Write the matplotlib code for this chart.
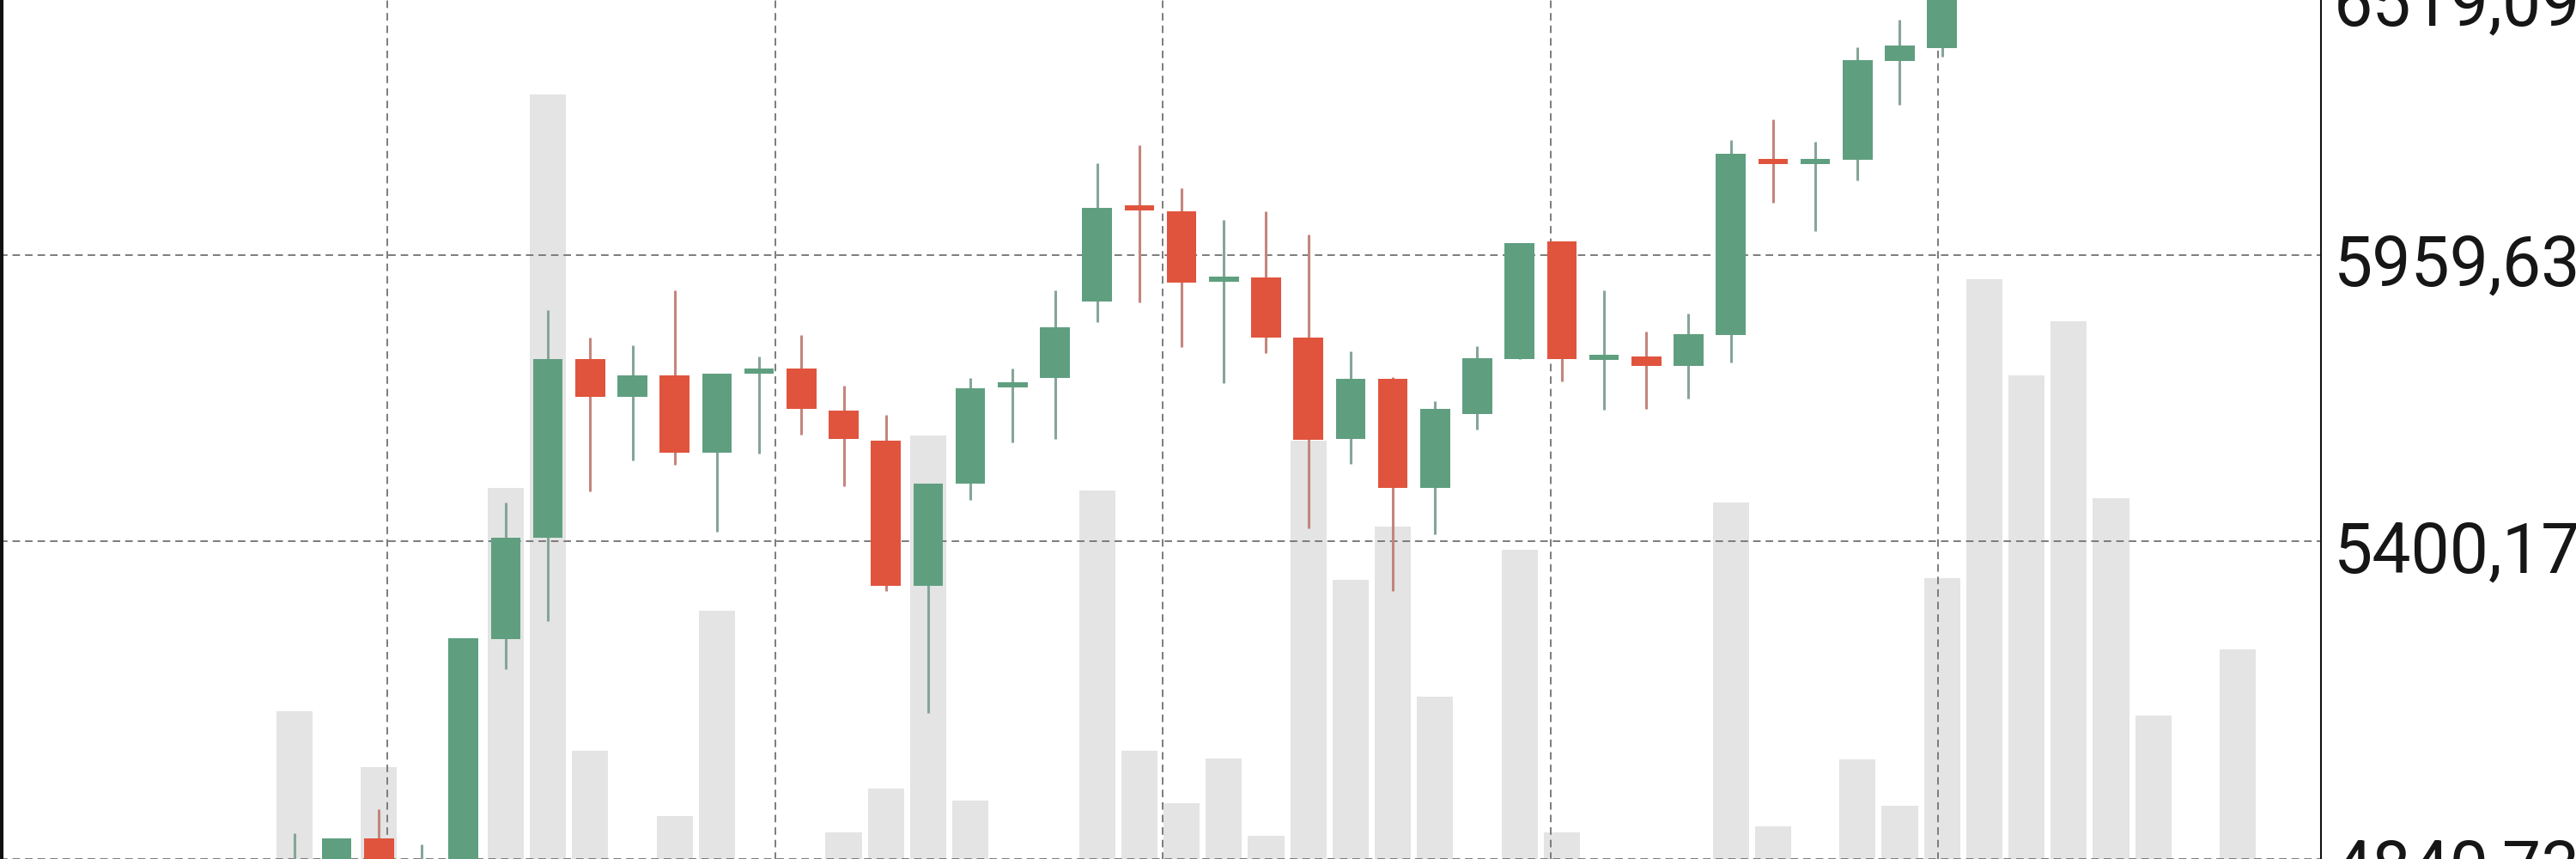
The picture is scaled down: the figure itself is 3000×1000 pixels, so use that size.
import matplotlib
matplotlib.use("Agg")
import matplotlib.pyplot as plt
from matplotlib.ticker import FixedLocator, NullLocator
from matplotlib.transforms import ScaledTranslation
import numpy as np

plt.rcParams['font.family'] = ['Roboto', 'DejaVu Sans']

# price candles, one per session (left to right)
opens = [4783.8, 4798.0, 4875.2, 4776.8, 4805.1, 5221.2, 5406.6, 5749.4, 5675.1, 5717.2,
         5567.1, 5724.0, 5730.7, 5648.3, 5590.2, 5317.8, 5508.2, 5697.0, 5712.1, 5864.4,
         6058.2, 6049.3, 5907.9, 5913.1, 5792.1, 5593.5, 5710.4, 5500.1, 5641.7, 5749.4,
         5987.0, 5751.1, 5754.5, 5735.8, 5797.2, 6155.7, 6152.1, 6157.5, 6370.4, 6398.8]
highs = [4883.9, 4875.2, 4924.4, 4865.1, 5222.8, 5472.5, 5847.1, 5792.1, 5776.7, 5887.0,
         5720.6, 5754.5, 5797.2, 5697.0, 5640.0, 5508.2, 5712.1, 5730.7, 5887.0, 6150.3,
         6188.6, 6097.8, 6031.4, 6049.3, 6001.2, 5764.7, 5713.8, 5666.7, 5775.0, 5983.5,
         5987.0, 5887.0, 5804.0, 5840.2, 6199.5, 6243.7, 6195.9, 6400.6, 6461.5, 6661.2]
lows = [4755.6, 4769.7, 4783.8, 4748.6, 4776.8, 5167.5, 5253.7, 5493.6, 5552.3, 5544.1,
        5417.8, 5565.5, 5601.8, 5503.3, 5308.4, 5090.2, 5477.3, 5586.9, 5593.5, 5823.0,
        5862.7, 5773.3, 5702.0, 5761.3, 5424.2, 5545.8, 5308.4, 5412.9, 5611.7, 5749.4,
        5705.4, 5650.0, 5651.7, 5671.8, 5742.6, 6067.2, 6008.3, 6114.0, 6275.1, 6379.9]
closes = [4826.4, 4875.2, 4812.2, 4819.3, 5222.8, 5406.6, 5749.4, 5675.1, 5717.2, 5567.1,
          5720.6, 5727.3, 5651.7, 5593.5, 5317.8, 5508.2, 5691.9, 5700.3, 5812.6, 6056.4,
          6054.6, 5902.7, 5911.4, 5792.1, 5591.9, 5710.4, 5500.1, 5651.7, 5751.1, 5983.5,
          5749.4, 5754.5, 5735.8, 5798.9, 6170.3, 6152.1, 6155.7, 6372.3, 6404.4, 6621.9]

# volume (arbitrary units), runs a few sessions further than the visible candles
volumes = [22.2, 2.5, 15.7, 3.0, 2.0, 48.2, 94.0, 17.6, 2.8, 10.0,
           33.9, 3.5, 2.2, 8.1, 13.2, 54.3, 11.8, 3.0, 2.6, 47.9,
           17.6, 11.5, 16.7, 7.7, 53.7, 37.5, 43.7, 23.9, 3.2, 41.0,
           8.1, 2.4, 3.6, 2.9, 46.5, 8.8, 3.1, 16.6, 11.2, 37.7,
           72.5, 61.3, 67.6, 47.0, 21.7, 3.3, 29.4]

price_ticks = [4840.73, 5400.17, 5959.63, 6519.09]
price_labels = ["4840,73", "5400,17", "5959,63", "6519,09"]
period_marks = [2.205, 11.383, 20.55, 29.74, 38.91]

GREEN = "#5f9f80"
RED = "#e0543d"
GREEN_WICK = "#86a596"
RED_WICK = "#c4857c"
VOL_GRAY = "#e4e4e4"
GRID = "#7c7c7c"

o = np.array(opens)
h = np.array(highs)
l = np.array(lows)
c = np.array(closes)
x = np.arange(len(o))
up = c >= o

fig = plt.figure(figsize=(30, 10), dpi=100)
rect = [0.0, -0.05, 0.901, 1.10]
ax_vol = fig.add_axes(rect)
ax = fig.add_axes(rect, sharex=ax_vol)
ax.patch.set_visible(False)

# volume underneath everything
ax_vol.bar(np.arange(len(volumes)), volumes, width=0.86, color=VOL_GRAY, linewidth=0)
ax_vol.set_ylim(0, 110)
ax_vol.axis('off')

# candles
wick_cols = np.where(up, GREEN_WICK, RED_WICK)
body_cols = np.where(up, GREEN, RED)
ax.vlines(x, l, h, colors=wick_cols, linewidth=2.2, zorder=2)
mid = (o + c) / 2
body_h = np.maximum(np.abs(c - o), mid * 0.0017)
ax.bar(x, body_h, bottom=mid - body_h / 2, width=0.70, color=body_cols,
       linewidth=0, zorder=3)

ax.set_yscale('log')
ax.set_ylim(4769.7, 6602.4)
ax.yaxis.set_major_locator(FixedLocator(price_ticks))
ax.yaxis.set_minor_locator(NullLocator())
ax.set_yticklabels(price_labels)
ax.yaxis.tick_right()
ax.tick_params(axis='y', length=0, pad=10.8, labelsize=58, labelcolor='#161616')
shift = ScaledTranslation(0, -6 / 100, fig.dpi_scale_trans)
for lbl in ax.get_yticklabels():
    lbl.set_transform(lbl.get_transform() + shift)

ax.set_xticks(period_marks)
ax.xaxis.set_minor_locator(NullLocator())
ax.tick_params(axis='x', length=0, labelbottom=False)
ax.set_xlim(-6.97, 47.97)

ax.set_axisbelow(True)
ax.grid(True, color=GRID, linewidth=1.4, linestyle=(0, (4.5, 3)))

ax.spines['top'].set_visible(False)
ax.spines['bottom'].set_visible(False)
ax.spines['right'].set_color('#111111')
ax.spines['right'].set_linewidth(1.5)
ax.spines['left'].set_color('#111111')
ax.spines['left'].set_linewidth(5.8)

fig.savefig('out.png', dpi=100)
